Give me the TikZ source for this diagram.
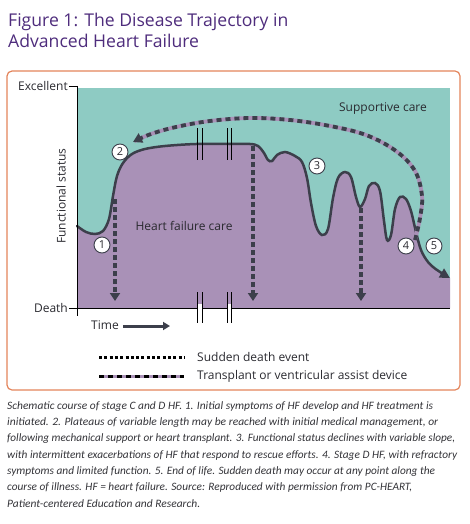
\documentclass[tikz,border=0pt]{standalone}
\usepackage{fontspec}
\usepackage{graphicx}
\setmainfont{Open Sans}
\newfontfamily\capfont{Carlito}
\usetikzlibrary{arrows.meta}
\definecolor{cTeal}{HTML}{8ECBC3}
\definecolor{cPurp}{HTML}{A991B7}
\definecolor{cDark}{HTML}{3C3F4B}
\definecolor{cOrange}{HTML}{E3845B}
\definecolor{cTitle}{HTML}{4E2C7C}
\definecolor{cText}{HTML}{2A2A30}
\definecolor{cCap}{HTML}{333338}
\newcommand{\capline}[2]{\resizebox{#1}{\height}{\capfont\itshape\fontsize{11.3}{13}\selectfont #2}}
\begin{document}
\begin{tikzpicture}[x=1pt,y=-1pt,
  lbl/.style={font=\fontsize{12}{13}\selectfont, text=cText, inner sep=0pt},
  sdarrow/.style={draw=cDark, line width=4pt, dash pattern=on 5pt off 3pt, -{Triangle[length=8pt,width=10pt]}},
  hfcurve/.style={draw=cDark, line width=2.5pt, line cap=round},
  num/.style={circle, draw=cDark, fill=white, line width=0.9pt, inner sep=0pt, minimum size=16pt, font=\fontsize{11}{11}\selectfont, text=cText},
  brk/.style={draw=black, line width=0.9pt},
  axisline/.style={draw=black, line width=0.9pt},
  caption/.style={anchor=base west, inner sep=0pt, text=cCap}
]
\useasboundingbox (0,0) rectangle (470,524);
% title
\node[anchor=base west, inner sep=0pt, font=\fontsize{17.6}{20}\selectfont, text=cTitle] (t1) at (8,27) {Figure 1: The Disease Trajectory in};
\node[anchor=base west, inner sep=0pt, font=\fontsize{17.6}{20}\selectfont, text=cTitle] (t2) at (8,48) {Advanced Heart Failure};
% frame
\draw[cOrange, line width=1.2pt, rounded corners=5pt] (7,71) rectangle (460,390);
% background areas
\fill[cTeal] (77,88) rectangle (450,308);
\fill[cPurp] (77,308) -- plot[smooth, tension=0.55] coordinates {(77,226) (86,232) (95,234) (103,231) (109,219) (113,196) (117,176) (123,163) (132,154) (145,149) (165,146) (196,144) (230,144) (250,144) (258,146) (264,153) (268,160) (272,161) (277,155) (285,152) (295,156) (302,162) (307,178) (311,203) (316,226) (322,235) (328,229) (333,198) (338,178) (345,172) (351,177) (356,197) (360,207) (365,199) (369,186) (375,183) (380,191) (384,221) (387,240) (391,235) (395,209) (400,197) (406,199) (411,211) (416,232) (421,250) (428,262) (437,270) (450,278)} -- (450,308) -- cycle;
% curve
\draw[hfcurve, -{Triangle[length=10pt,width=10pt]}] plot[smooth, tension=0.55] coordinates {(77,226) (86,232) (95,234) (103,231) (109,219) (113,196) (117,176) (123,163) (132,154) (145,149) (165,146) (196,144) (230,144) (250,144) (258,146) (264,153) (268,160) (272,161) (277,155) (285,152) (295,156) (302,162) (307,178) (311,203) (316,226) (322,235) (328,229) (333,198) (338,178) (345,172) (351,177) (356,197) (360,207) (365,199) (369,186) (375,183) (380,191) (384,221) (387,240) (391,235) (395,209) (400,197) (406,199) (411,211) (416,232) (421,250) (428,262) (437,270) (450,278)};
% axes
\coordinate (ytop) at (77,86);
\coordinate (ybot) at (77,316);
\coordinate (xl) at (77,308);
\coordinate (xr) at (450,308);
\draw[axisline] (ytop) -- (ybot);
\draw[axisline] (xl) -- (xr);
\draw[axisline] (69,86) -- (ytop);
\draw[axisline] (69,308) -- (xl);
\node[lbl, anchor=east] (exc) at (68,86) {Excellent};
\node[lbl, anchor=east] (dea) at (68,308) {Death};
\node[lbl, rotate=90] (fs) at (61,196) {Functional status};
% break marks
\fill[white] (197.5,304) rectangle (201.5,312);
\fill[white] (227.5,304) rectangle (230.5,312);
\foreach \bx in {197,202,227,231} {
  \draw[brk] (\bx,292) -- (\bx,323);
  \draw[brk] (\bx,128) -- (\bx,160);
}
% sudden death arrows
\coordinate (s1a) at (115,199); \coordinate (s1b) at (115,301);
\coordinate (s2a) at (253,146); \coordinate (s2b) at (253,301);
\coordinate (s3a) at (361,208); \coordinate (s3b) at (361,301);
\draw[sdarrow] (s1a) -- (s1b);
\draw[sdarrow] (s2a) -- (s2b);
\draw[sdarrow] (s3a) -- (s3b);
% transplant arc
\draw[cPurp, line width=3.8pt, shorten >=6pt] plot[smooth, tension=0.6] coordinates {(415,240) (420,218) (422,196) (415,171) (396,151) (366,135) (330,126) (290,120) (250,118) (210,121) (176,127) (151,134) (133,142)};
\draw[cDark, line width=3.8pt, dash pattern=on 5pt off 4pt, -{Triangle[length=9pt,width=10pt]}] plot[smooth, tension=0.6] coordinates {(415,240) (420,218) (422,196) (415,171) (396,151) (366,135) (330,126) (290,120) (250,118) (210,121) (176,127) (151,134) (133,142)};
% area labels
\node[lbl] (hfc) at (184,226) {Heart failure care};
\node[lbl] (spc) at (383,109) {Supportive care};
% numbers
\node[num] (n1) at (102,245) {1};
\node[num] (n2) at (120,152) {2};
\node[num] (n3) at (317,166) {3};
\node[num] (n4) at (406,246) {4};
\node[num] (n5) at (434,246) {5};
% time
\node[lbl, anchor=west] (time) at (91,325) {Time};
\draw[cDark, line width=3pt, -{Triangle[length=7pt,width=8pt]}] (time.east) ++(4,1) coordinate (ta) -- (170,326) coordinate (tb);
% legend
\coordinate (l1a) at (99,357); \coordinate (l1b) at (184,357);
\coordinate (l2a) at (99,376); \coordinate (l2b) at (184,376);
\draw[black, line width=3pt, dash pattern=on 3pt off 2.3pt] (l1a) -- (l1b);
\draw[cPurp, line width=3pt] (l2a) -- (l2b);
\draw[black, line width=3pt, dash pattern=on 5pt off 4pt] (l2a) -- (l2b);
\node[lbl, anchor=west] (lg1) at (197,357) {Sudden death event};
\node[lbl, anchor=west] (lg2) at (197,376) {Transplant or ventricular assist device};
% caption
\node[caption] (c1) at (7,409) {\capline{426pt}{Schematic course of stage C and D HF. 1. Initial symptoms of HF develop and HF treatment is}};
\node[caption] (c2) at (7,425.3) {\capline{431pt}{initiated. 2. Plateaus of variable length may be reached with initial medical management, or}};
\node[caption] (c3) at (7,441.7) {\capline{448pt}{following mechanical support or heart transplant. 3. Functional status declines with variable slope,}};
\node[caption] (c4) at (7,458) {\capline{450pt}{with intermittent exacerbations of HF that respond to rescue efforts. 4. Stage D HF, with refractory}};
\node[caption] (c5) at (7,474.3) {\capline{428pt}{symptoms and limited function. 5. End of life. Sudden death may occur at any point along the}};
\node[caption] (c6) at (7,490.7) {\capline{405pt}{course of illness. HF = heart failure. Source: Reproduced with permission from PC-HEART,}};
\node[caption] (c7) at (7,507) {\capline{193pt}{Patient-centered Education and Research.}};
\end{tikzpicture}
\end{document}
